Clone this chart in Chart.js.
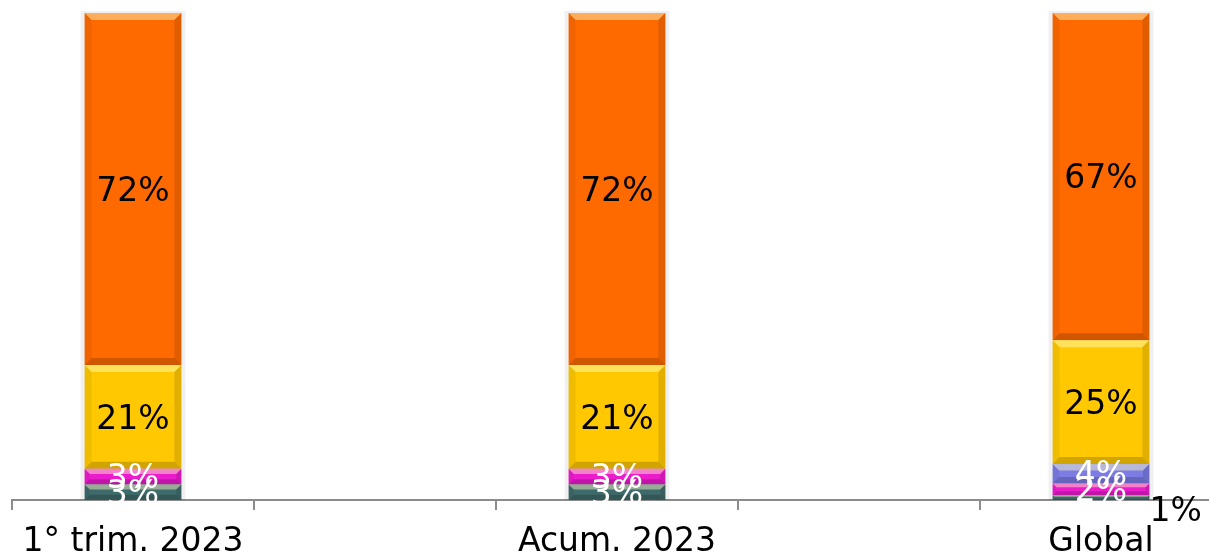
<!DOCTYPE html>
<html>
<head>
<meta charset="utf-8">
<script src="https://cdn.jsdelivr.net/npm/chart.js@4/dist/chart.umd.min.js"></script>
<style>
  html, body { margin: 0; padding: 0; background: #fff; }
  #wrap { width: 1209px; height: 558px; overflow: hidden; position: relative; }
  #chart { display: block; }
</style>
</head>
<body>
<div id="wrap"><canvas id="chart" width="1230" height="558"></canvas></div>
<script>
const categories = ['1° trim. 2023', '', 'Acum. 2023', '', 'Global'];
const tealData = [3.2, null, 3.2, null, 1.0];
const magentaData = [3.2, null, 3.2, null, 2.4];
const lavenderData = [0, null, 0, null, 4.0];
const yellowData = [21.3, null, 21.3, null, 25.4];
const orangeData = [72.3, null, 72.3, null, 67.2];

const labelFont = '33px "DejaVu Sans", Verdana, sans-serif';

// bevel + soft shadow like the office chart
const bevelPlugin = {
    id: 'bevel',
    beforeDatasetsDraw(chart) {
        const ctx = chart.ctx;
        const meta = chart.getDatasetMeta(0);
        const yScale = chart.scales.y;
        meta.data.forEach((bar, i) => {
            if (tealData[i] == null) return;
            const left = bar.x - bar.width / 2;
            const top = yScale.getPixelForValue(100);
            ctx.save();
            ctx.fillStyle = 'rgba(0,0,0,0.06)';
            ctx.fillRect(left - 4, top - 2, bar.width + 8, yScale.getPixelForValue(0) - top + 2);
            ctx.restore();
        });
    },
    afterDatasetsDraw(chart) {
        const ctx = chart.ctx;
        chart.data.datasets.forEach((ds, di) => {
            const meta = chart.getDatasetMeta(di);
            meta.data.forEach((bar, i) => {
                const v = ds.data[i];
                if (!v) return;
                const l = bar.x - bar.width / 2, r = bar.x + bar.width / 2;
                const t = Math.min(bar.y, bar.base), b = Math.max(bar.y, bar.base);
                const h = b - t;
                const e = Math.min(7, h / 3);
                ctx.save();
                // top highlight
                ctx.fillStyle = 'rgba(255,255,200,0.45)';
                ctx.beginPath();
                ctx.moveTo(l, t); ctx.lineTo(r, t); ctx.lineTo(r - e, t + e); ctx.lineTo(l + e, t + e);
                ctx.closePath(); ctx.fill();
                // side shading
                ctx.fillStyle = 'rgba(0,0,0,0.12)';
                ctx.beginPath();
                ctx.moveTo(r, t); ctx.lineTo(r, b); ctx.lineTo(r - e, b - e); ctx.lineTo(r - e, t + e);
                ctx.closePath(); ctx.fill();
                ctx.fillStyle = 'rgba(0,0,0,0.06)';
                ctx.beginPath();
                ctx.moveTo(l, t); ctx.lineTo(l, b); ctx.lineTo(l + e, b - e); ctx.lineTo(l + e, t + e);
                ctx.closePath(); ctx.fill();
                // bottom shading
                ctx.fillStyle = 'rgba(0,0,0,0.18)';
                ctx.beginPath();
                ctx.moveTo(l, b); ctx.lineTo(r, b); ctx.lineTo(r - e, b - e); ctx.lineTo(l + e, b - e);
                ctx.closePath(); ctx.fill();
                ctx.restore();
            });
        });
    }
};

const valueLabels = {
    id: 'valueLabels',
    afterDraw(chart) {
        const ctx = chart.ctx;
        ctx.save();
        ctx.font = labelFont;
        chart.data.datasets.forEach((ds, di) => {
            const meta = chart.getDatasetMeta(di);
            meta.data.forEach((bar, i) => {
                const v = ds.data[i];
                if (!v) return;
                const txt = Math.round(v) + '%';
                const h = Math.abs(bar.base - bar.y);
                if (h < 8) {
                    ctx.fillStyle = '#000';
                    ctx.textAlign = 'left';
                    ctx.textBaseline = 'middle';
                    ctx.fillText(txt, bar.x + bar.width / 2, bar.base + 12);
                } else {
                    ctx.fillStyle = ds.labelColor;
                    ctx.textAlign = 'center';
                    ctx.textBaseline = 'middle';
                    ctx.fillText(txt, bar.x, (bar.y + bar.base) / 2 + 3);
                }
            });
        });
        ctx.restore();
    }
};

const ctx = document.getElementById('chart').getContext('2d');
new Chart(ctx, {
    type: 'bar',
    data: {
        labels: categories,
        datasets: [
            { label: 'teal', data: tealData, backgroundColor: '#3f6a6b', labelColor: '#fff' },
            { label: 'magenta', data: magentaData, backgroundColor: '#ea1ccc', labelColor: '#fff' },
            { label: 'lavender', data: lavenderData, backgroundColor: '#7c7ce4', labelColor: '#fff' },
            { label: 'yellow', data: yellowData, backgroundColor: '#ffc800', labelColor: '#000' },
            { label: 'orange', data: orangeData, backgroundColor: '#ff6a00', labelColor: '#000' }
        ]
    },
    options: {
        responsive: false,
        animation: false,
        layout: { padding: { left: 12, right: 8, top: 13, bottom: 0 } },
        datasets: {
            bar: { categoryPercentage: 1, barPercentage: 0.4, borderWidth: 0 }
        },
        plugins: {
            legend: { display: false },
            tooltip: { enabled: false }
        },
        scales: {
            x: {
                stacked: true,
                afterFit(scale) { scale.height = 58; },
                grid: {
                    offset: true,
                    drawOnChartArea: false,
                    tickLength: 10,
                    color: '#8c8c8c',
                    lineWidth: 2
                },
                border: { color: '#8c8c8c', width: 2 },
                ticks: {
                    color: '#000',
                    padding: 13,
                    maxRotation: 0,
                    autoSkip: false,
                    font: { family: '"DejaVu Sans", Verdana, sans-serif', size: 33 }
                }
            },
            y: {
                stacked: true,
                display: false,
                min: 0,
                max: 100
            }
        }
    },
    plugins: [bevelPlugin, valueLabels]
});
</script>
</body>
</html>
